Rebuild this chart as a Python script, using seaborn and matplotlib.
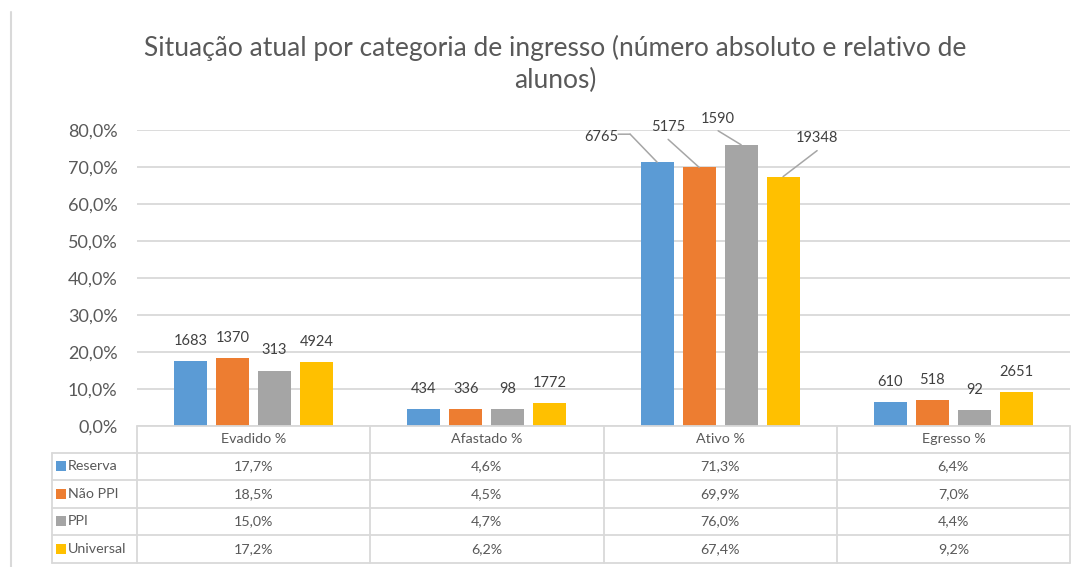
import pandas as pd
import seaborn as sns
import matplotlib.pyplot as plt
from matplotlib.lines import Line2D
from matplotlib.transforms import offset_copy

# data
situacoes = ["Evadido %", "Afastado %", "Ativo %", "Egresso %"]
categorias = ["Reserva", "Não PPI", "PPI", "Universal"]
pct_reserva = [17.7, 4.6, 71.3, 6.4]
pct_nao_ppi = [18.5, 4.5, 69.9, 7.0]
pct_ppi = [15.0, 4.7, 76.0, 4.4]
pct_universal = [17.2, 6.2, 67.4, 9.2]
abs_reserva = [1683, 434, 6765, 610]
abs_nao_ppi = [1370, 336, 5175, 518]
abs_ppi = [313, 98, 1590, 92]
abs_universal = [4924, 1772, 19348, 2651]

pcts = [pct_reserva, pct_nao_ppi, pct_ppi, pct_universal]
absolutos = [abs_reserva, abs_nao_ppi, abs_ppi, abs_universal]
cores = ["#5B9BD5", "#ED7D31", "#A5A5A5", "#FFC000"]

rows = []
for cat, vals in zip(categorias, pcts):
    for sit, v in zip(situacoes, vals):
        rows.append({"Situação": sit, "Categoria": cat, "pct": v})
df = pd.DataFrame(rows)

sns.set_style("white")
plt.rcParams["font.family"] = ["Lato", "DejaVu Sans"]

texto = "#595959"
linha = "#D9D9D9"

fig = plt.figure(figsize=(10.86, 5.67), dpi=100)
ax = fig.add_axes([137 / 1086, 141 / 567, 933 / 1086, 296 / 567])

sns.barplot(data=df, x="Situação", y="pct", hue="Categoria", palette=cores,
            saturation=1, width=0.72, gap=0.21, linewidth=0, legend=False, ax=ax)

ax.set_ylim(0, 80)
ax.set_xlim(-0.5, 3.5)
ax.set_yticks(range(0, 81, 10))
ax.set_yticklabels([f"{t},0%" for t in range(0, 81, 10)], fontsize=13, color=texto)
ax.tick_params(axis="y", length=0, pad=14)
ax.set_xticks([])
ax.set_xlabel("")
ax.set_ylabel("")
ax.yaxis.grid(True, color=linha, lw=1.3)
ax.set_axisbelow(True)
sns.despine(ax=ax, left=True, bottom=True)


def off(dx, dy):
    return offset_copy(ax.transData, fig=fig, x=dx, y=dy, units="dots")


# rótulos com números absolutos (Ativo com linhas de chamada)
ativo_off = {0: ((-56, 25), [(0, 0), (-27, 28), (-39, 28)]),
             1: ((-31, 40), [(0, 0), (-31, 28)]),
             2: ((-23, 26), [(0, 0), (-23, 14)]),
             3: ((34, 39), [(0, 0), (34, 26)])}
for h, cont in enumerate(ax.containers):
    for i, bar in enumerate(cont):
        xc = bar.get_x() + bar.get_width() / 2
        top = bar.get_height()
        lab = str(absolutos[h][i])
        if situacoes[i] == "Ativo %":
            (tx, ty), pts = ativo_off[h]
            for p0, p1 in zip(pts[:-1], pts[1:]):
                ax.annotate("", xy=(xc, top), xycoords=off(*p0),
                            xytext=(xc, top), textcoords=off(*p1),
                            arrowprops=dict(arrowstyle="-", color="#A6A6A6", lw=1.1,
                                            shrinkA=0, shrinkB=0))
            ax.annotate(lab, xy=(xc, top), xytext=(tx, ty), textcoords="offset pixels",
                        ha="center", va="center", fontsize=10.5, color="#404040")
        else:
            ax.annotate(lab, xy=(xc, top), xytext=(0, 20), textcoords="offset pixels",
                        ha="center", va="center", fontsize=10.5, color="#404040")


# tabela de dados
def fy(y):
    return (426 - y) / 296


def fx(x):
    return (x - 137) / 933


xtr = ax.get_xaxis_transform()
linhas_y = [426, 452.5, 480, 507.5, 535, 562.5]
ax.plot([-0.5, 3.5], [fy(426)] * 2, color=linha, lw=1.3, transform=xtr, clip_on=False)
for y in linhas_y[1:]:
    ax.plot([fx(52), 1], [fy(y)] * 2, color=linha, lw=1.3, transform=ax.transAxes, clip_on=False)
ax.plot([fx(52)] * 2, [fy(452.5), fy(562.5)], color=linha, lw=1.3,
        transform=ax.transAxes, clip_on=False)
for xb in [-0.5, 0.5, 1.5, 2.5, 3.5]:
    ax.plot([xb, xb], [fy(426), fy(562.5)], color=linha, lw=1.3, transform=xtr, clip_on=False)

for i, sit in enumerate(situacoes):
    ax.text(i, fy((426 + 452.5) / 2), sit, transform=xtr, ha="center", va="center",
            fontsize=10.3, color=texto)
for r, (cat, vals) in enumerate(zip(categorias, pcts)):
    ymid = fy((linhas_y[r + 1] + linhas_y[r + 2]) / 2)
    for i, v in enumerate(vals):
        ax.text(i, ymid, f"{v:.1f}%".replace(".", ","), transform=xtr,
                ha="center", va="center", fontsize=10.3, color=texto)
    ax.scatter([fx(61)], [ymid], marker="s", s=42, color=cores[r],
               transform=ax.transAxes, clip_on=False, linewidths=0)
    ax.text(fx(68), ymid, cat, transform=ax.transAxes, ha="left", va="center",
            fontsize=10.3, color=texto)

# título
fig.text(555 / 1086, 1 - 48 / 567, "Situação atual por categoria de ingresso (número absoluto e relativo de",
         ha="center", va="center", fontsize=19, color=texto)
fig.text(555 / 1086, 1 - 80 / 567, "alunos)", ha="center", va="center", fontsize=19, color=texto)

# borda esquerda
fig.add_artist(Line2D([11 / 1086] * 2, [0, 1 - 12 / 567], color=linha, lw=1.5))

fig.savefig("out.png", dpi=100, facecolor="white")
